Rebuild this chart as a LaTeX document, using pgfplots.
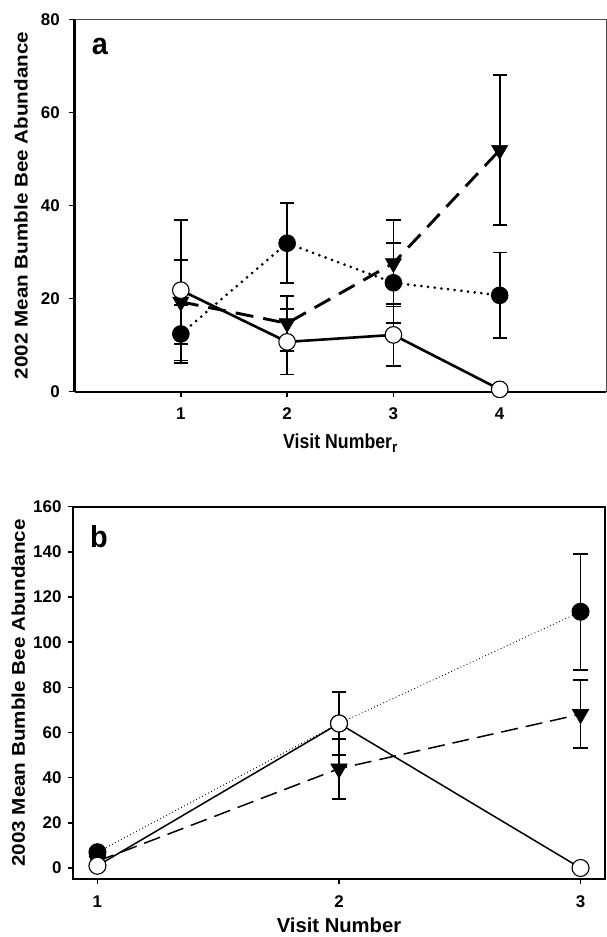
\documentclass[border=0pt]{standalone}
\usepackage{fontspec}
\setmainfont{Liberation Sans}
\usepackage{pgfplots}
\usepackage{pgfplotstable}
\pgfplotsset{compat=1.18}

% 2002 (panel a)
\pgfplotstableread{
x y e
1 12.4 6.3
2 31.9 8.6
3 23.4 8.6
4 20.7 9.2
}\aFilled
\pgfplotstableread{
x y e
1 19.3 9.0
2 14.7 5.9
3 27.6 9.3
4 51.9 16.1
}\aTri
\pgfplotstableread{
x y e
1 21.8 15.1
2 10.7 7.0
3 12.2 6.6
4 0.5 0
}\aOpen
% 2003 (panel b)
\pgfplotstableread{
x y e
1 7.0 0
2 64.0 0
3 113.5 25.7
}\bFilled
\pgfplotstableread{
x y e
1 3.0 0
2 44.0 13.3
3 68.1 15.0
}\bTri
\pgfplotstableread{
x y e
1 1.0 0
2 64.0 14.0
3 0.0 0
}\bOpen

\pgfplotsset{
  bee/.style={
    scale only axis, anchor=south west,
    tick align=outside, major tick length=5bp,
    tick style={line width=1.4bp, black},
    xtick pos=left, ytick pos=left,
    /pgf/number format/assume math mode=true,
    tick label style={font=\fontsize{17}{19}\selectfont\bfseries},
    yticklabel style={anchor=east, inner sep=0pt},
    xticklabel style={anchor=center, inner sep=0pt},
    label style={font=\fontsize{18.5}{20}\selectfont\bfseries},
    clip=false,
  },
  ebars/.style={
    error bars/.cd, y dir=both, y explicit,
    error bar style={line width=1.8bp, solid, black},
    error mark options={rotate=90, mark size=7.2bp, line width=1.8bp, solid, black},
  },
}

\begin{document}
\begin{tikzpicture}
\path[use as bounding box] (0,0) rectangle (607bp,937bp);

% ---------- panel a ----------
\begin{axis}[bee,
  at={(74.5bp,545.3bp)}, width=531.5bp, height=372.4bp,
  xmin=0, xmax=5, ymin=0, ymax=80,
  xtick={1,2,3,4}, ytick={0,20,40,60,80},
  axis x line*=bottom, axis y line*=left,
  axis line style={line width=2bp, -},
  yticklabel style={xshift=-9.5bp},
  xticklabel style={yshift=-17bp},
  xlabel={\scalebox{0.96}[1.1]{Visit Number\raisebox{-4bp}{\fontsize{14}{14}\selectfont r}}},
  ylabel={\scalebox{1.12}[1]{2002 Mean Bumble Bee Abundance}},
  xlabel style={at={(axis description cs:0.5,-0.152)}, anchor=base},
  ylabel style={at={(axis description cs:-0.1007,0.5)}, anchor=center},
]
\draw[line width=1bp, black!70] (rel axis cs:0,1) -- (rel axis cs:1,1) -- (rel axis cs:1,0);
\addplot[black, line width=3bp, line cap=round, dash pattern=on 0bp off 6.7bp,
  mark=*, mark size=8.3bp, mark options={solid, fill=black, line width=1bp},
  ebars] table[x=x, y=y, y error=e] {\aFilled};
\addplot[black, line width=2.9bp, dash pattern=on 18bp off 10bp,
  mark=triangle*, mark size=9.3bp, mark options={solid, rotate=180, fill=black, line width=0.6bp},
  ebars] table[x=x, y=y, y error=e] {\aTri};
\addplot[black, line width=2.6bp,
  mark=*, mark size=8.3bp, mark options={solid, fill=white, line width=1.1bp},
  ebars] table[x=x, y=y, y error=e] {\aOpen};
\node[font=\fontsize{29}{30}\selectfont\bfseries, yscale=1.05] at (axis description cs:0.0479,0.928) {a};
\end{axis}

% ---------- panel b ----------
\begin{axis}[bee,
  at={(73.3bp,57.7bp)}, width=531.4bp, height=372.6bp,
  xmin=0.9, xmax=3.1, ymin=-5, ymax=160,
  xtick={1,2,3}, ytick={0,20,...,160},
  axis line style={line width=1.9bp},
  yticklabel style={xshift=-6.6bp},
  xticklabel style={yshift=-17bp},
  xlabel={Visit Number},
  ylabel={\scalebox{1.12}[1]{2003 Mean Bumble Bee Abundance}},
  xlabel style={font=\fontsize{20.3}{22}\selectfont\bfseries, at={(axis description cs:0.5,-0.142)}, anchor=base},
  ylabel style={at={(axis description cs:-0.1033,0.5)}, anchor=center},
]
\addplot[black, line width=1.2bp, line cap=round, dash pattern=on 0bp off 3.4bp,
  mark=*, mark size=8.5bp, mark options={solid, fill=black, line width=1bp},
  ebars] table[x=x, y=y, y error=e] {\bFilled};
\addplot[black, line width=1.5bp, dash pattern=on 17bp off 8bp,
  mark=triangle*, mark size=9.5bp, mark options={solid, rotate=180, fill=black, line width=0.6bp},
  ebars] table[x=x, y=y, y error=e] {\bTri};
\addplot[black, line width=1.5bp,
  mark=*, mark size=8.5bp, mark options={solid, fill=white, line width=1.1bp},
  ebars] table[x=x, y=y, y error=e] {\bOpen};
\node[font=\fontsize{29}{30}\selectfont\bfseries, yscale=1.05] at (axis description cs:0.0485,0.92) {b};
\end{axis}
\end{tikzpicture}
\end{document}
